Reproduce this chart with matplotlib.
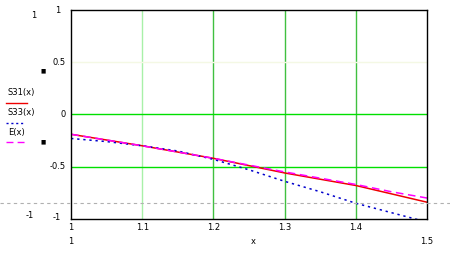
"""
Mathcad style plot of S31(x), S33(x) and E(x)
"""
import matplotlib
matplotlib.use("Agg")
import matplotlib.pyplot as plt
from matplotlib.lines import Line2D

# values
x_vals = [1.0, 1.05, 1.1, 1.15, 1.2, 1.25, 1.3, 1.35, 1.4, 1.45, 1.5]
s31 = [-0.19, -0.245, -0.30, -0.36, -0.42, -0.49, -0.56, -0.62, -0.68, -0.76, -0.84]
s33 = [-0.23, -0.26, -0.30, -0.35, -0.43, -0.53, -0.64, -0.74, -0.85, -0.94, -1.03]
e_vals = [-0.19, -0.245, -0.30, -0.36, -0.42, -0.485, -0.55, -0.61, -0.67, -0.74, -0.80]

x_ticks = [1.1, 1.2, 1.3, 1.4]
x_tick_labels = ["1.1", "1.2", "1.3", "1.4"]
y_ticks = [0.5, 0, -0.5]
y_tick_labels = ["0.5", "0", "-0.5"]
marker_y = -0.846

fig = plt.figure(figsize=(4.5, 2.54), dpi=100)
ax = fig.add_axes([0.158, 0.138, 0.791, 0.823])

# grid lines drawn like Mathcad
ax.axvline(1.1, color="#a8f0a8", lw=1)
for xv in [1.2, 1.3, 1.4]:
    ax.axvline(xv, color="#40c040", lw=1)
ax.axhline(0.5, color="#f4f8e4", lw=1)
ax.axhline(0, color="#00e000", lw=1)
ax.axhline(-0.5, color="#00e000", lw=1)

ax.plot(x_vals, s31, color="#ee0000", lw=1.1)
ax.plot(x_vals, s33, color="#0000cc", lw=1.1, ls=(0, (1.5, 2.5)))
ax.plot(x_vals, e_vals, color="#ff00ff", lw=1.1, ls=(0, (5, 3)))

ax.set_xlim(1, 1.5)
ax.set_ylim(-1, 1)
ax.set_xticks([])
ax.set_yticks([])
for sp in ax.spines.values():
    sp.set_linewidth(1)

fs = 6
# tick labels
for xv, lab in zip(x_ticks, x_tick_labels):
    ax.text(xv, -1.035, lab, ha="center", va="top", fontsize=fs)
ax.text(1.0, -1.035, "1", ha="center", va="top", fontsize=fs)
for yv, lab in zip(y_ticks, y_tick_labels):
    ax.text(0.993, yv, lab, ha="right", va="center", fontsize=fs)
ax.text(0.985, 0.99, "1", ha="right", va="center", fontsize=fs)
ax.text(0.985, -0.99, "-1", ha="right", va="center", fontsize=fs)

# range labels below and left
fig.text(71 / 450, 1 - 242 / 254, "1", ha="center", va="center", fontsize=fs)
fig.text(253 / 450, 1 - 242 / 254, "x", ha="center", va="center", fontsize=fs)
fig.text(427 / 450, 1 - 242 / 254, "1.5", ha="center", va="center", fontsize=fs)
fig.text(34 / 450, 1 - 15 / 254, "1", ha="center", va="center", fontsize=fs)
fig.text(30 / 450, 1 - 216 / 254, "-1", ha="center", va="center", fontsize=fs)
fig.text(43 / 450, 1 - 71 / 254, "\u25a0", ha="center", va="center", fontsize=4)
fig.text(43 / 450, 1 - 142 / 254, "\u25a0", ha="center", va="center", fontsize=4)

# legend on the left
fig.text(8 / 450, 1 - 92 / 254, "S31(x)", ha="left", va="center", fontsize=fs)
fig.text(8 / 450, 1 - 112 / 254, "S33(x)", ha="left", va="center", fontsize=fs)
fig.text(8 / 450, 1 - 132 / 254, "E(x)", ha="left", va="center", fontsize=fs)
fig.add_artist(Line2D([6 / 450, 27 / 450], [1 - 103 / 254] * 2, color="#ee0000", lw=1))
fig.add_artist(Line2D([6 / 450, 25 / 450], [1 - 123 / 254] * 2, color="#0000cc", lw=1,
                      ls=(0, (1.5, 2))))
fig.add_artist(Line2D([6 / 450, 27 / 450], [1 - 142 / 254] * 2, color="#ff00ff", lw=1,
                      ls=(0, (5, 3))))

# dashed marker line across the whole figure
y_fig = 0.138 + 0.823 * (marker_y + 1) / 2
fig.add_artist(Line2D([0, 1], [y_fig, y_fig], color="#b0b0b0", lw=0.8, ls=(0, (3, 3)),
                      zorder=0.5))

fig.savefig("out.png", dpi=100)
